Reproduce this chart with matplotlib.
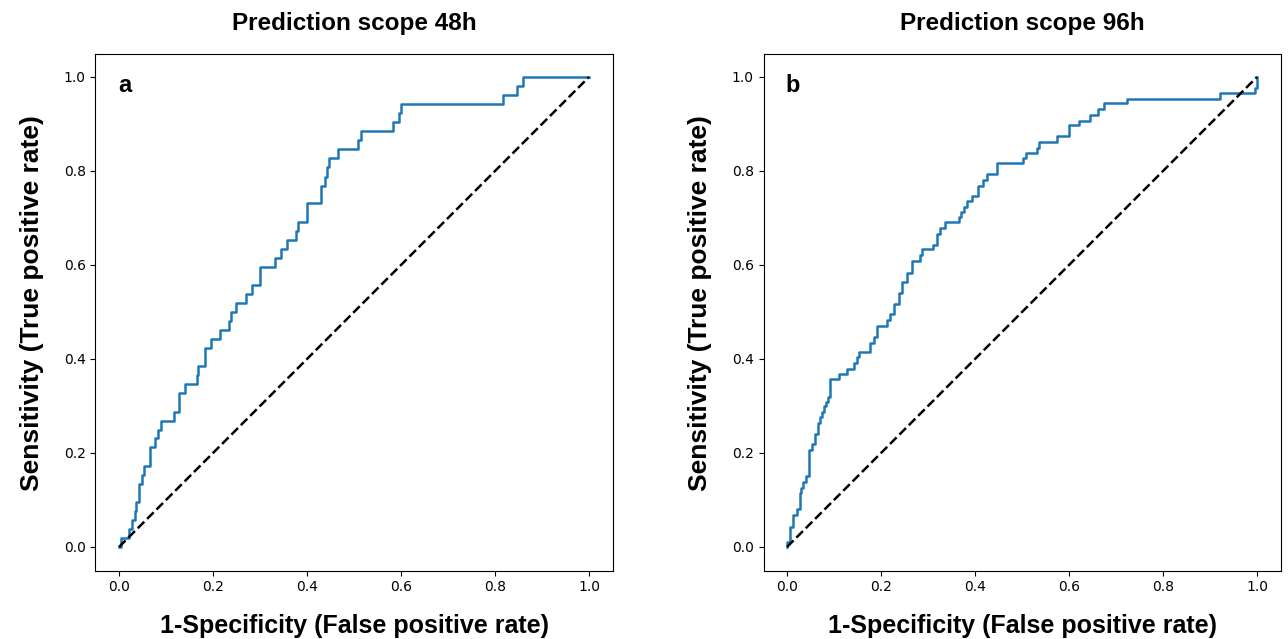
import matplotlib
matplotlib.use("Agg")
import matplotlib.pyplot as plt

# ROC data (x = false positive rate at each vertical jump, y = level reached)
fpr_a = [0.0, 0.004, 0.022, 0.028, 0.033, 0.036, 0.042, 0.048, 0.054, 0.065, 0.077, 0.082,
         0.089, 0.118, 0.127, 0.141, 0.167, 0.169, 0.182, 0.196, 0.215, 0.233, 0.238, 0.248,
         0.270, 0.282, 0.301, 0.332, 0.344, 0.357, 0.377, 0.381, 0.401, 0.429, 0.438, 0.443,
         0.447, 0.465, 0.509, 0.515, 0.584, 0.596, 0.600, 0.816, 0.847, 0.860, 1.0]
tpr_a = [0.0, 0.019, 0.038, 0.058, 0.077, 0.096, 0.135, 0.154, 0.173, 0.212, 0.231, 0.250,
         0.269, 0.288, 0.327, 0.346, 0.365, 0.385, 0.423, 0.442, 0.462, 0.481, 0.500, 0.519,
         0.538, 0.558, 0.596, 0.615, 0.635, 0.654, 0.673, 0.692, 0.731, 0.769, 0.788, 0.808,
         0.827, 0.846, 0.865, 0.885, 0.904, 0.923, 0.942, 0.962, 0.981, 1.0, 1.0]

fpr_b = [0.0, 0.0, 0.006, 0.013, 0.021, 0.028, 0.030, 0.035, 0.040, 0.047, 0.053, 0.060,
         0.067, 0.070, 0.075, 0.079, 0.084, 0.088, 0.091, 0.111, 0.127, 0.143, 0.148, 0.153,
         0.177, 0.185, 0.191, 0.212, 0.219, 0.228, 0.239, 0.244, 0.255, 0.267, 0.282, 0.287,
         0.311, 0.320, 0.326, 0.336, 0.365, 0.370, 0.377, 0.382, 0.393, 0.407, 0.418, 0.426,
         0.446, 0.503, 0.509, 0.531, 0.537, 0.575, 0.599, 0.622, 0.645, 0.662, 0.674, 0.724,
         0.921, 0.996, 1.0]
tpr_b = [0.0, 0.011, 0.043, 0.068, 0.080, 0.114, 0.125, 0.139, 0.151, 0.206, 0.219, 0.240,
         0.263, 0.276, 0.288, 0.300, 0.309, 0.320, 0.357, 0.368, 0.379, 0.391, 0.404, 0.414,
         0.435, 0.447, 0.470, 0.483, 0.495, 0.516, 0.540, 0.563, 0.584, 0.609, 0.621, 0.633,
         0.643, 0.667, 0.679, 0.691, 0.703, 0.713, 0.724, 0.736, 0.747, 0.769, 0.781, 0.794,
         0.816, 0.827, 0.839, 0.850, 0.862, 0.874, 0.898, 0.907, 0.919, 0.931, 0.944, 0.954,
         0.967, 0.976, 1.0]

titles = ["Prediction scope 48h", "Prediction scope 96h"]
letters = ["a", "b"]
xlabel = "1-Specificity (False positive rate)"
ylabel = "Sensitivity (True positive rate)"
ticks = [0.0, 0.2, 0.4, 0.6, 0.8, 1.0]

fig = plt.figure(figsize=(12.88, 6.39), dpi=100)
W, H = 1288, 639
ax_a = fig.add_axes([95.5 / W, (H - 570.5) / H, 517 / W, 517 / H])
ax_b = fig.add_axes([763.5 / W, (H - 570.5) / H, 517 / W, 517 / H])

bold = dict(family=["Liberation Sans", "DejaVu Sans"], weight="bold")

for ax, fx, ty, title, letter in [(ax_a, fpr_a, tpr_a, titles[0], letters[0]),
                                  (ax_b, fpr_b, tpr_b, titles[1], letters[1])]:
    ax.plot(fx, ty, drawstyle="steps-post", color="#1f77b4", lw=1.8)
    ax.plot([0, 1], [0, 1], "k--", lw=1.8)
    ax.set_xlim(-0.05, 1.05)
    ax.set_ylim(-0.05, 1.05)
    ax.set_xticks(ticks)
    ax.set_yticks(ticks)
    ax.tick_params(labelsize=10)
    ax.set_title(title, fontsize=17.5, pad=17, **bold)
    ax.set_xlabel(xlabel, fontsize=18, labelpad=14, **bold)
    ax.set_ylabel(ylabel, fontsize=19, **bold)
    ax.yaxis.set_label_coords(-0.10, 0.517)
    ax.text(0.057, 0.939, letter, transform=ax.transAxes, ha="center", va="center",
            fontsize=17, **bold)

fig.savefig("out.png", dpi=100)
